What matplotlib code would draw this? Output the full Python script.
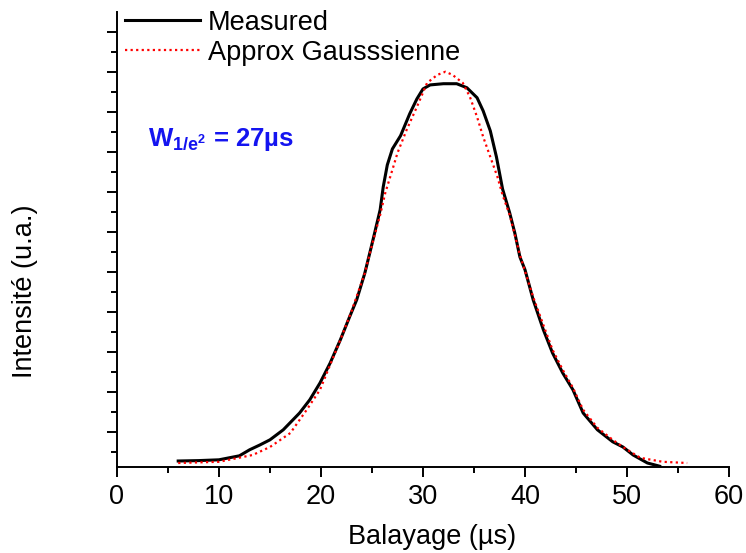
import matplotlib
matplotlib.use("Agg")
import matplotlib.pyplot as plt
from matplotlib.ticker import MultipleLocator

plt.rcParams['font.family'] = ['Liberation Sans', 'DejaVu Sans']
plt.rcParams['mathtext.fontset'] = 'custom'
plt.rcParams['mathtext.rm'] = 'Liberation Sans'
plt.rcParams['mathtext.bf'] = 'Liberation Sans:bold'
plt.rcParams['mathtext.it'] = 'Liberation Sans:italic'

# measured profile (arbitrary units)
meas_x = [6.0, 8.0, 10.0, 12.0, 13.0, 14.0, 15.0, 16.3, 17.9, 18.9, 19.9, 20.9,
          21.9, 22.8, 23.5, 24.3, 25.1, 25.8, 26.1, 26.5, 27.0, 27.8, 28.7, 29.4,
          30.0, 30.7, 32.0, 33.3, 34.3, 35.3, 35.9, 36.6, 37.2, 37.8, 38.5, 39.0,
          39.5, 40.0, 40.8, 41.8, 42.7, 43.7, 44.7, 45.7, 47.1, 48.6, 49.6, 50.6,
          52.0, 53.2]
meas_y = [0.15, 0.16, 0.18, 0.28, 0.43, 0.55, 0.68, 0.93, 1.35, 1.68, 2.10, 2.60,
          3.18, 3.75, 4.18, 4.85, 5.68, 6.43, 7.00, 7.55, 7.95, 8.28, 8.83, 9.20,
          9.45, 9.55, 9.58, 9.58, 9.48, 9.23, 8.90, 8.40, 7.75, 6.95, 6.35, 5.85,
          5.25, 4.93, 4.18, 3.43, 2.85, 2.35, 1.93, 1.35, 0.93, 0.63, 0.50, 0.30,
          0.10, 0.02]

# gaussian fit
fit_x = [6.0, 10.0, 13.3, 15.0, 17.0, 18.6, 19.9, 21.9, 23.0, 24.3, 25.0, 25.8,
         26.3, 27.0, 27.5, 28.4, 29.4, 30.4, 31.4, 32.2, 32.9, 33.9, 34.6, 35.3,
         35.9, 36.6, 37.3, 37.8, 38.5, 39.5, 40.8, 41.8, 42.7, 43.7, 44.7, 45.7,
         47.1, 48.6, 49.6, 51.3, 53.5, 55.9]
fit_y = [0.10, 0.13, 0.30, 0.50, 0.85, 1.43, 1.93, 3.18, 3.90, 4.85, 5.55, 6.30,
         6.85, 7.43, 7.85, 8.43, 9.00, 9.60, 9.80, 9.88, 9.80, 9.60, 9.25, 8.75,
         8.25, 7.75, 7.25, 6.80, 6.30, 5.30, 4.25, 3.55, 2.93, 2.43, 1.98, 1.43,
         0.98, 0.68, 0.50, 0.23, 0.13, 0.10]

fig = plt.figure(figsize=(7.46, 5.53), dpi=100)
ax = fig.add_axes([117/746, 86/553, 612/746, 455.3/553])

ax.plot(meas_x, meas_y, color='black', lw=2.2, label='Measured')
ax.plot(fit_x, fit_y, color='red', lw=1.6, ls=(0, (1, 1.5)), label='Approx Gausssienne')

ax.set_xlim(0, 60)
ax.set_ylim(0, 11.38)
ax.xaxis.set_major_locator(MultipleLocator(10))
ax.xaxis.set_minor_locator(MultipleLocator(5))
ax.yaxis.set_major_locator(MultipleLocator(1, offset=0.8825))
ax.yaxis.set_minor_locator(MultipleLocator(0.5, offset=0.3825))
ax.set_yticklabels([])
ax.tick_params(which='major', length=7.2, width=1.4, direction='out', labelsize=19.5, pad=5)
ax.tick_params(which='minor', length=4.3, width=1.4, direction='out')

for s in ['top', 'right']:
    ax.spines[s].set_visible(False)
for s in ['left', 'bottom']:
    ax.spines[s].set_linewidth(1.4)

ax.set_xlabel('Balayage (µs)', fontsize=19.5)
ax.xaxis.set_label_coords(0.515, -0.125)
ax.set_ylabel('Intensité (u.a.)', fontsize=19.5, va='center')
ax.yaxis.set_label_coords(-0.150, 0.385)

ax.legend(loc='upper left', bbox_to_anchor=(-0.013, 1.04), frameon=False, fontsize=19.5,
          handlelength=2.75, handletextpad=0.3, labelspacing=0.15, borderaxespad=0.2)

ax.text(0.05, 0.705, r'$\mathbf{W}_{\mathbf{1/e}^{\mathbf{2}}}$ = 27µs', transform=ax.transAxes,
        color='#1414f0', fontsize=18.5, fontweight='bold', va='baseline', ha='left')

fig.savefig('out.png', dpi=100)
